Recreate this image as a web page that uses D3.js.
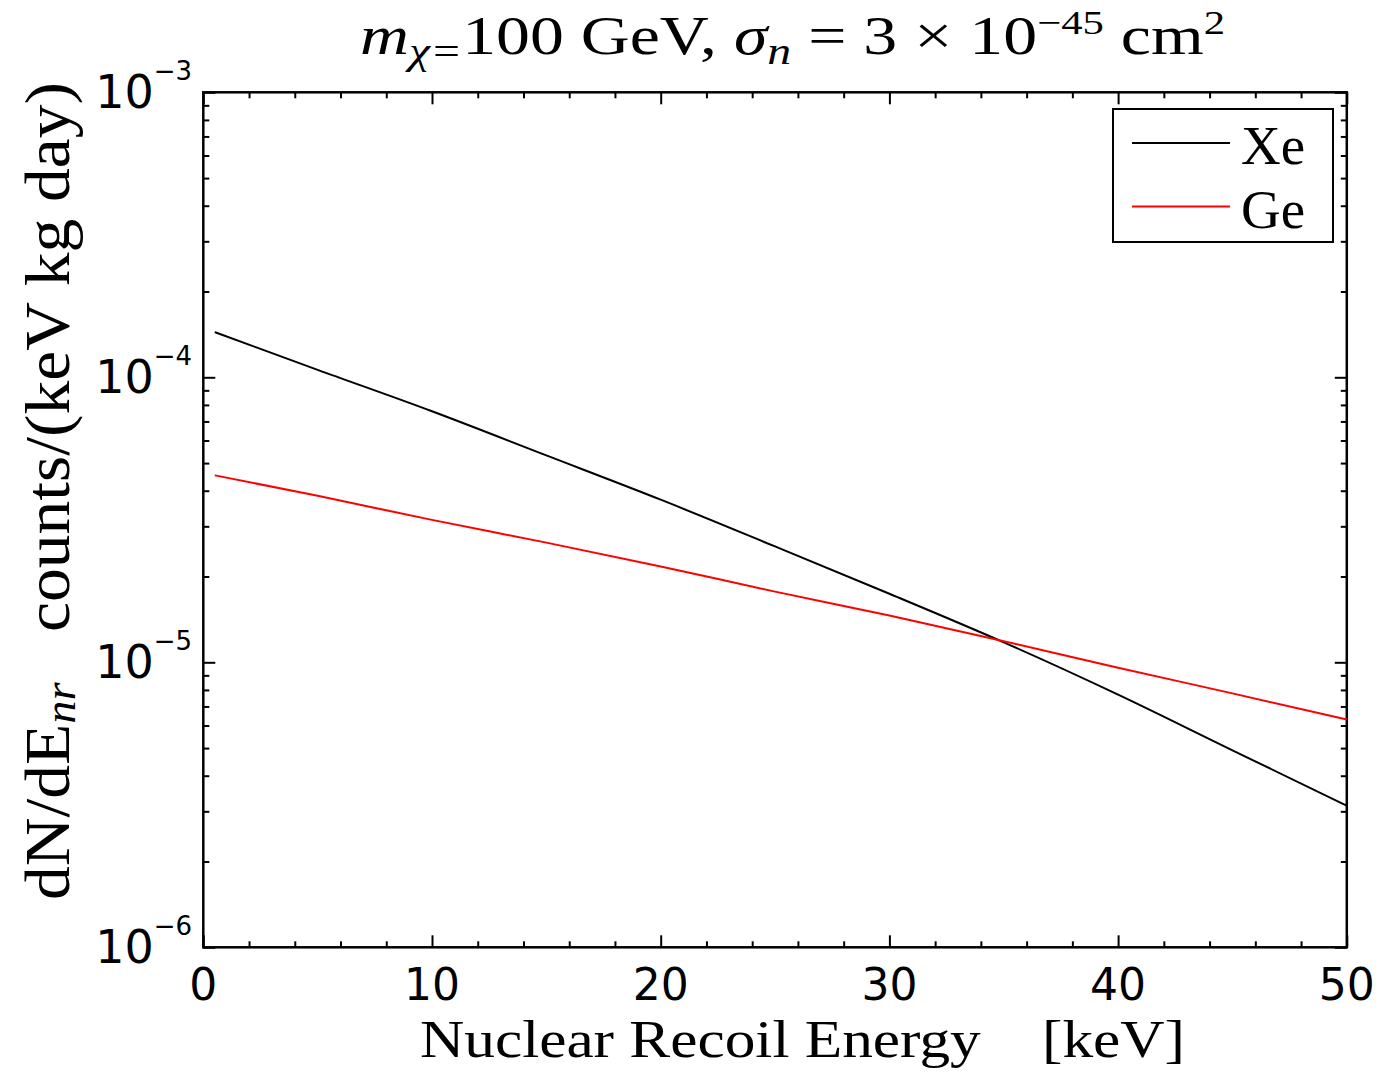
<!DOCTYPE html>
<html>
<head>
<meta charset="utf-8">
<script src="https://cdn.jsdelivr.net/npm/d3@7"></script>
<style>
  body { margin: 0; background: #fff; }
  svg { display: block; }
  .serif { font-family: "Liberation Serif", "DejaVu Serif", serif; white-space: pre; }
  .ticklab { font-family: "DejaVu Sans", sans-serif; }
</style>
</head>
<body>
<svg id="chart" width="1382" height="1072"></svg>
<script>
// recoil spectra
const energy  = [0.5, 5, 10, 15, 20, 25, 30, 35, 40, 45, 50];
const rateXe  = [1.44e-4, 1.062e-4, 7.60e-5, 5.32e-5, 3.72e-5, 2.55e-5, 1.74e-5, 1.175e-5, 7.7e-6, 4.91e-6, 3.14e-6];
const rateGe  = [4.53e-5, 3.84e-5, 3.16e-5, 2.63e-5, 2.17e-5, 1.77e-5, 1.46e-5, 1.186e-5, 9.57e-6, 7.78e-6, 6.30e-6];
const targets = ["Xe", "Ge"];
const colors  = ["#000000", "#ff0000"];

const xMajor = [0, 10, 20, 30, 40, 50];
const yMajor = [1e-6, 1e-5, 1e-4, 1e-3];

const svg = d3.select("#chart");
const plotL = 203.3, plotR = 1346.8, plotT = 92.3, plotB = 947.3;

const x = d3.scaleLinear().domain([0, 50]).range([plotL, plotR]);
const y = d3.scaleLog().domain([1e-6, 1e-3]).range([plotB, plotT]);

// minor ticks
var xMinor = d3.range(0, 51, 2).filter(function(v){ return v % 10 != 0; });
var yMinor = [];
yMajor.slice(0, 3).forEach(function(d){
  for (var k = 2; k <= 9; k++) yMinor.push(d * k);
});

function tickGroup(axis, tx, ty){
  var g = svg.append("g").attr("transform", "translate(" + tx + "," + ty + ")").call(axis);
  g.select(".domain").remove();
  g.selectAll(".tick line").attr("stroke", "#000").attr("stroke-width", 2);
  g.selectAll(".tick text").remove();
  return g;
}

// ticks point inward on all four sides
tickGroup(d3.axisBottom(x).tickValues(xMajor).tickSize(-12), 0, plotB);
tickGroup(d3.axisBottom(x).tickValues(xMinor).tickSize(-6), 0, plotB);
tickGroup(d3.axisTop(x).tickValues(xMajor).tickSize(-12), 0, plotT);
tickGroup(d3.axisTop(x).tickValues(xMinor).tickSize(-6), 0, plotT);
tickGroup(d3.axisLeft(y).tickValues(yMajor).tickSize(-12), plotL, 0);
tickGroup(d3.axisLeft(y).tickValues(yMinor).tickSize(-6), plotL, 0);
tickGroup(d3.axisRight(y).tickValues(yMajor).tickSize(-12), plotR, 0);
tickGroup(d3.axisRight(y).tickValues(yMinor).tickSize(-6), plotR, 0);

// frame
svg.append("rect")
  .attr("x", plotL).attr("y", plotT)
  .attr("width", plotR - plotL).attr("height", plotB - plotT)
  .attr("fill", "none").attr("stroke", "#000").attr("stroke-width", 2.5);

// x tick labels
svg.selectAll(".xlab").data(xMajor).enter().append("text")
  .attr("class", "ticklab")
  .attr("x", function(d){ return x(d); })
  .attr("y", plotB + 53)
  .attr("text-anchor", "middle")
  .attr("font-size", 44)
  .text(function(d){ return d; });

// y tick labels 10^n
var ylab = svg.selectAll(".ylab").data(yMajor).enter().append("text")
  .attr("class", "ticklab")
  .attr("x", 192)
  .attr("y", function(d){ return y(d) + 16; })
  .attr("text-anchor", "end")
  .attr("font-size", 46);
ylab.append("tspan").text("10");
ylab.append("tspan").attr("font-size", 26).attr("dy", -28)
  .text(function(d){ return "\u2212" + Math.round(-Math.log10(d)); });

// curves
var line = d3.line()
  .x(function(d){ return x(d[0]); })
  .y(function(d){ return y(d[1]); })
  .curve(d3.curveMonotoneX);

[rateXe, rateGe].forEach(function(vals, i){
  svg.append("path")
    .attr("d", line(d3.zip(energy, vals)))
    .attr("fill", "none")
    .attr("stroke", colors[i])
    .attr("stroke-width", 2);
});

// legend
var lg = svg.append("g");
lg.append("rect")
  .attr("x", 1113).attr("y", 109).attr("width", 220).attr("height", 133)
  .attr("fill", "#fff").attr("stroke", "#000").attr("stroke-width", 2);
targets.forEach(function(name, i){
  var ly = 143 + i * 63.5;
  lg.append("line")
    .attr("x1", 1132).attr("x2", 1230).attr("y1", ly).attr("y2", ly)
    .attr("stroke", colors[i]).attr("stroke-width", 2);
  lg.append("text").attr("class", "serif")
    .attr("x", 1241).attr("y", ly + 21)
    .attr("font-size", 55)
    .text(name);
});

// title
var title = svg.append("text").attr("class", "serif")
  .attr("x", 360).attr("y", 54)
  .attr("font-size", 54)
  .attr("textLength", 865).attr("lengthAdjust", "spacingAndGlyphs");
title.append("tspan").attr("font-style", "italic").text("m");
title.append("tspan").attr("font-style", "italic").attr("font-size", 38).attr("dy", 10).text("\u03c7=");
title.append("tspan").attr("dy", -10).text("100 GeV, ");
title.append("tspan").attr("font-style", "italic").text("\u03c3");
title.append("tspan").attr("font-style", "italic").attr("font-size", 38).attr("dy", 10).text("n");
title.append("tspan").attr("dy", -10).text(" = 3 \u00d7 10");
title.append("tspan").attr("font-size", 34).attr("dy", -20).text("\u221245");
title.append("tspan").attr("dy", 20).text(" cm");
title.append("tspan").attr("font-size", 34).attr("dy", -20).text("2");

// x label
svg.append("text").attr("class", "serif")
  .attr("x", 420).attr("y", 1057)
  .attr("font-size", 53)
  .attr("textLength", 765).attr("lengthAdjust", "spacingAndGlyphs")
  .text("Nuclear Recoil Energy    [keV]");

// y label
var yl = svg.append("text").attr("class", "serif")
  .attr("transform", "translate(69,491) rotate(-90)")
  .attr("text-anchor", "middle")
  .attr("font-size", 64)
  .attr("textLength", 818).attr("lengthAdjust", "spacingAndGlyphs");
yl.append("tspan").text("dN/dE");
yl.append("tspan").attr("font-style", "italic").attr("font-size", 44).attr("dy", 6).text("nr");
yl.append("tspan").attr("dy", -6).text("   counts/(keV kg day)");
</script>
</body>
</html>
